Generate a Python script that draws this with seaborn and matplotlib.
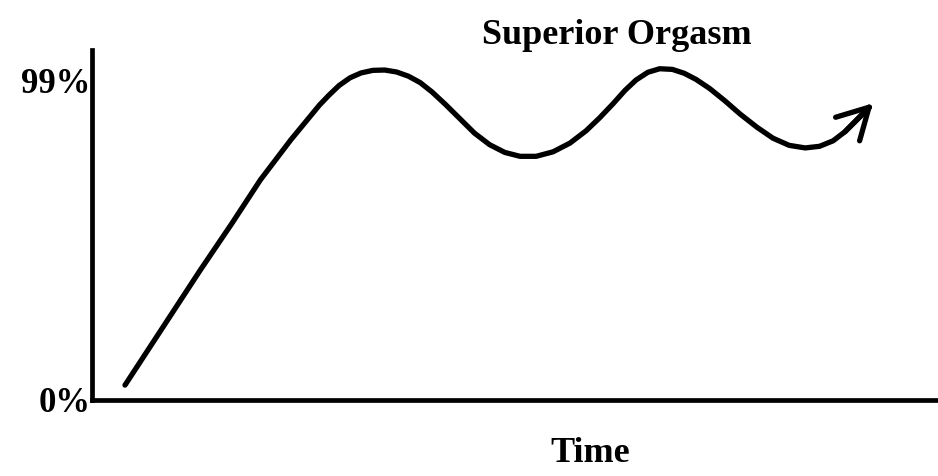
import matplotlib
matplotlib.use("Agg")
import matplotlib.pyplot as plt
import pandas as pd
import seaborn as sns

# curve (time in arbitrary units, level in %)
time_vals = [3.9, 8.0, 12.8, 16.5, 19.9, 23.5, 26.9, 28.0, 29.2, 30.5, 31.8, 33.2, 34.6,
             36.0, 37.4, 38.8, 40.2, 41.8, 43.5, 45.2, 47.0, 48.8, 50.6, 52.5, 54.5,
             56.5, 58.4, 60.0, 61.6, 63.0, 64.3, 65.7, 67.1, 68.6, 70.0, 71.4, 73.0,
             74.8, 76.6, 78.6, 80.5, 82.4, 84.3, 86.0, 87.6, 89.0, 90.4, 91.9]
level_vals = [4.6, 21.0, 40.2, 54.5, 68.1, 80.5, 91.3, 94.3, 97.3, 99.7, 101.2, 102.0, 102.1,
              101.5, 100.2, 98.2, 95.3, 91.4, 87.0, 82.6, 79.0, 76.6, 75.4, 75.4, 76.8,
              79.5, 83.3, 87.3, 91.7, 95.8, 99.0, 101.4, 102.5, 102.3, 101.1, 99.2, 96.4,
              92.6, 88.5, 84.4, 81.0, 78.8, 78.0, 78.5, 80.2, 83.0, 86.6, 90.6]
ytick_vals = [0, 99]
ytick_labels = ["0%", "99%"]
title_text = "Superior Orgasm"
xlabel_text = "Time"

df = pd.DataFrame({"time": time_vals, "level": level_vals})

sns.set_style("white")
plt.rcParams["font.family"] = ["Liberation Serif", "DejaVu Serif"]
plt.rcParams["text.color"] = "black"
plt.rcParams["axes.labelcolor"] = "black"
plt.rcParams["ytick.color"] = "black"

fig = plt.figure(figsize=(9.38, 4.76), dpi=100)
ax = fig.add_axes([92 / 938, 76 / 476, 846 / 938, 350 / 476])

sns.lineplot(data=df, x="time", y="level", ax=ax, color="black", linewidth=3.8,
             solid_capstyle="round", solid_joinstyle="round", sort=False)

# open arrow head at the end of the curve
ax.annotate("", xy=(time_vals[-1] + 0.4, level_vals[-1] + 1.2),
            xytext=(time_vals[-3], level_vals[-3]),
            arrowprops=dict(arrowstyle="->,head_length=1.0,head_width=0.55",
                            mutation_scale=22, color="black", lw=3.8,
                            capstyle="round", joinstyle="round",
                            shrinkA=0, shrinkB=0))

ax.set_xlim(0, 100)
ax.set_ylim(0, 108.3)
ax.set_xticks([])
ax.set_yticks(ytick_vals)
ax.set_yticklabels(ytick_labels, fontsize=25, fontweight="bold", color="black")
ax.tick_params(axis="y", length=0, pad=1)
ax.set_xlabel(xlabel_text, fontsize=26, fontweight="bold", color="black")
ax.xaxis.set_label_coords(0.589, -0.105)
ax.set_ylabel("")
ax.set_title(title_text, fontsize=26, fontweight="bold", color="black", x=0.62, y=1.0, pad=4)

for side in ["top", "right"]:
    ax.spines[side].set_visible(False)
for side in ["left", "bottom"]:
    ax.spines[side].set_linewidth(3.4)
    ax.spines[side].set_color("black")

fig.savefig("out.png", dpi=100)
